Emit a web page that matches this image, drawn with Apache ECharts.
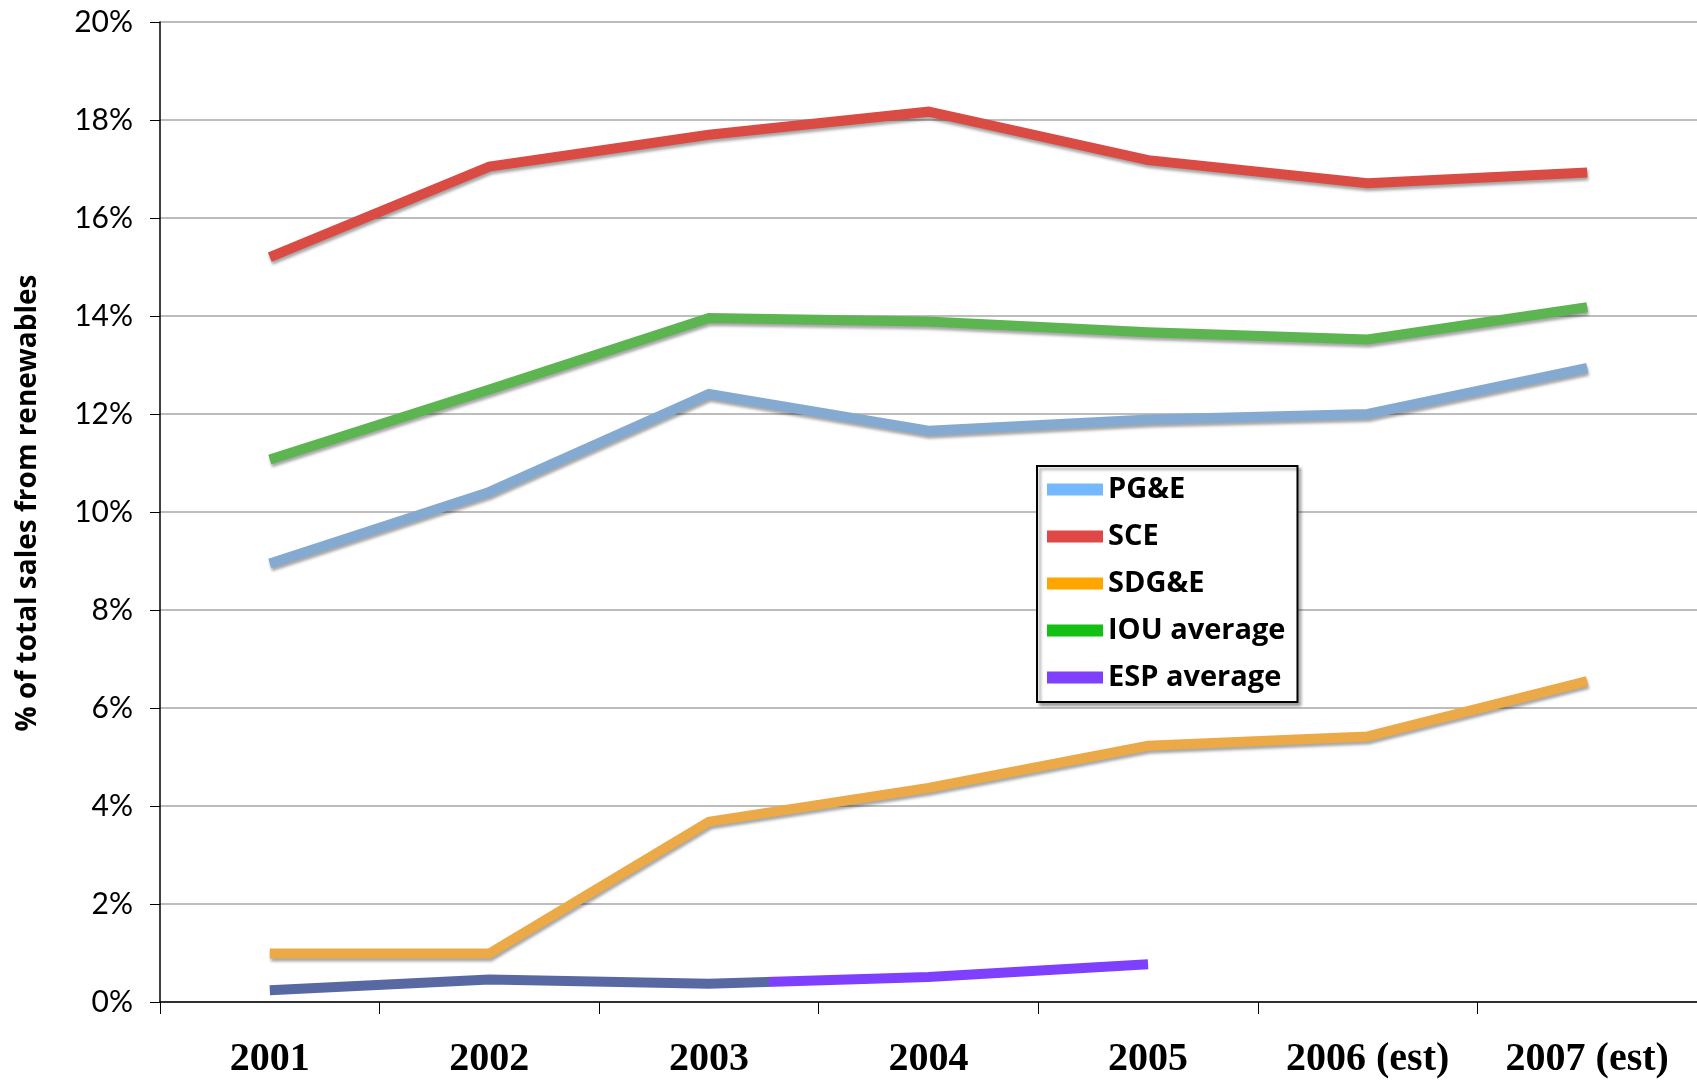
<!DOCTYPE html>
<html>
<head>
<meta charset="utf-8">
<script src="https://cdn.jsdelivr.net/npm/echarts@6/dist/echarts.min.js"></script>
<style>
html,body{margin:0;padding:0;background:#fff;}
#chart{width:1697px;height:1080px;}
</style>
</head>
<body>
<div id="chart"></div>
<script>
const categories = ['2001', '2002', '2003', '2004', '2005', '2006 (est)', '2007 (est)'];
const pge   = [8.95, 10.41, 12.41, 11.66, 11.89, 12.00, 12.94];
const sce   = [15.20, 17.05, 17.70, 18.17, 17.18, 16.71, 16.93];
const sdge  = [0.99, 0.99, 3.68, 4.37, 5.23, 5.42, 6.55];
const iou   = [11.07, 12.50, 13.96, 13.89, 13.67, 13.52, 14.18];
const esp   = [0.24, 0.46, 0.37, 0.51, 0.77];
const seriesNames = ['PG&E', 'SCE', 'SDG&E', 'IOU average', 'ESP average'];
const yTicks = [0, 2, 4, 6, 8, 10, 12, 14, 16, 18, 20];

const legendColors = ['#74b9ff', '#e04848', '#ffa500', '#15c015', '#7f3fff'];
// ESP line changes colour part way between 2003 and 2004
const espSplit = 2.27 / (esp.length - 1);
const lineColors = [
  '#85aad2', '#d94b43', '#eba948', '#5cb550',
  new echarts.graphic.LinearGradient(0, 0, 1, 0, [
    {offset: 0, color: '#5868a3'},
    {offset: espSplit, color: '#5868a3'},
    {offset: espSplit, color: '#7f3fff'},
    {offset: 1, color: '#7f3fff'}
  ])
];
const allData = [pge, sce, sdge, iou, esp];

const chart = echarts.init(document.getElementById('chart'), null, {renderer: 'canvas'});

const series = seriesNames.map((name, i) => ({
  name: name,
  type: 'line',
  data: allData[i],
  showSymbol: false,
  symbol: 'none',
  z: 10 - i,
  itemStyle: {color: legendColors[i]},
  lineStyle: {
    color: lineColors[i],
    width: 10,
    cap: 'butt',
    join: 'miter',
    shadowColor: i === 4 ? 'rgba(0,0,0,0)' : 'rgba(0,0,0,0.35)',
    shadowBlur: 3,
    shadowOffsetX: 1,
    shadowOffsetY: 3
  }
}));

chart.setOption({
  animation: false,
  backgroundColor: '#ffffff',
  grid: {left: 160, right: 0, top: 22, bottom: 77, containLabel: false},
  legend: {
    orient: 'vertical',
    left: 1037,
    top: 466,
    padding: [9, 12, 10, 10],
    itemGap: 18,
    itemWidth: 56,
    itemHeight: 12,
    icon: 'rect',
    backgroundColor: '#ffffff',
    borderColor: '#000000',
    borderWidth: 2,
    shadowColor: 'rgba(0,0,0,0.35)',
    shadowBlur: 3,
    shadowOffsetX: 3,
    shadowOffsetY: 3,
    textStyle: {fontFamily: 'Open Sans', fontWeight: 'bold', fontSize: 29, color: '#000'},
    data: seriesNames.map((n, i) => ({name: n, icon: 'rect', itemStyle: {color: legendColors[i]}}))
  },
  xAxis: {
    type: 'category',
    data: categories,
    boundaryGap: true,
    axisLine: {lineStyle: {color: '#000', width: 1.5}},
    axisTick: {show: true, length: 12, lineStyle: {color: '#000', width: 1}},
    axisLabel: {
      fontFamily: 'Liberation Serif',
      fontWeight: 'bold',
      fontSize: 40,
      color: '#000',
      margin: 38,
      interval: 0
    },
    splitLine: {show: false}
  },
  yAxis: {
    type: 'value',
    min: 0,
    max: 20,
    interval: 2,
    name: '% of total sales from renewables',
    nameLocation: 'middle',
    nameGap: 118,
    nameRotate: 90,
    nameTextStyle: {fontFamily: 'Open Sans', fontWeight: 'bold', fontSize: 28, color: '#000', padding: [0, 0, 0, 18]},
    axisLine: {show: true, lineStyle: {color: '#000', width: 1.5}},
    axisTick: {show: true, length: 10, lineStyle: {color: '#000', width: 1}},
    axisLabel: {
      fontFamily: 'Lato',
      fontSize: 30,
      color: '#000',
      margin: 27,
      formatter: v => (yTicks.indexOf(v) >= 0 ? v + '%' : '')
    },
    splitLine: {show: true, lineStyle: {color: '#bdbdbd', width: 2}}
  },
  series: series
});
</script>
</body>
</html>
